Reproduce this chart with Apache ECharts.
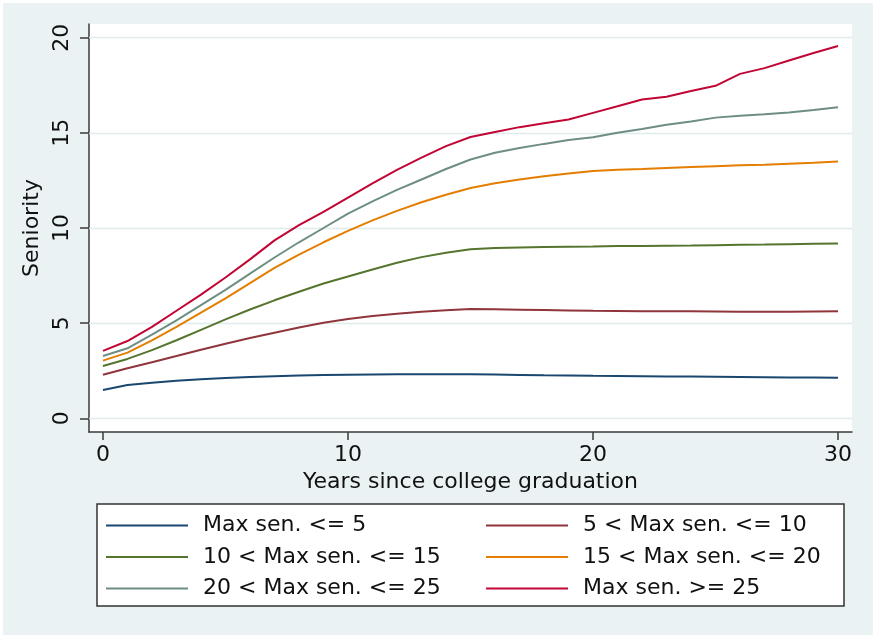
<!DOCTYPE html>
<html>
<head>
<meta charset="utf-8">
<script src="https://cdn.jsdelivr.net/npm/echarts@6/dist/echarts.min.js"></script>
<style>
  html, body { margin: 0; padding: 0; background: #ffffff; }
  #chart { width: 873px; height: 635px; }
</style>
</head>
<body>
<div id="chart"></div>
<script>
// Years since college graduation (x values)
const years = [0, 1, 2, 3, 4, 5, 6, 7, 8, 9, 10, 11, 12, 13, 14, 15, 16, 17, 18, 19, 20,
               21, 22, 23, 24, 25, 26, 27, 28, 29, 30];

// Mean seniority by maximum-seniority group
const senLe5 = [1.49, 1.75, 1.87, 1.97, 2.05, 2.12, 2.17, 2.21, 2.25, 2.27, 2.29, 2.30, 2.31, 2.32, 2.32, 2.32,
                2.30, 2.28, 2.26, 2.25, 2.23, 2.22, 2.21, 2.20, 2.19, 2.18, 2.17, 2.16, 2.15, 2.14, 2.13];
const sen5to10 = [2.29, 2.63, 2.95, 3.27, 3.60, 3.92, 4.22, 4.50, 4.77, 5.02, 5.22, 5.38, 5.50, 5.60, 5.68, 5.74,
                  5.73, 5.71, 5.69, 5.67, 5.65, 5.64, 5.63, 5.62, 5.62, 5.61, 5.60, 5.60, 5.60, 5.61, 5.62];
const sen10to15 = [2.75, 3.12, 3.58, 4.10, 4.65, 5.20, 5.72, 6.20, 6.65, 7.08, 7.45, 7.82, 8.17, 8.47, 8.70, 8.88,
                   8.95, 8.98, 9.00, 9.02, 9.03, 9.05, 9.06, 9.07, 9.08, 9.10, 9.12, 9.13, 9.15, 9.17, 9.18];
const sen15to20 = [3.03, 3.45, 4.10, 4.80, 5.55, 6.30, 7.10, 7.90, 8.60, 9.25, 9.85, 10.40, 10.90, 11.35, 11.75, 12.10,
                   12.35, 12.55, 12.72, 12.87, 13.00, 13.06, 13.10, 13.15, 13.20, 13.25, 13.30, 13.33, 13.38, 13.43, 13.49];
const sen20to25 = [3.27, 3.68, 4.40, 5.15, 5.95, 6.75, 7.60, 8.45, 9.25, 10.00, 10.75, 11.40, 12.00, 12.55, 13.10, 13.60,
                   13.95, 14.20, 14.42, 14.62, 14.77, 15.00, 15.20, 15.42, 15.60, 15.80, 15.90, 15.98, 16.07, 16.20, 16.34];
const senGe25 = [3.54, 4.06, 4.80, 5.65, 6.50, 7.40, 8.35, 9.35, 10.15, 10.85, 11.60, 12.35, 13.05, 13.70, 14.30, 14.78,
                 15.05, 15.30, 15.50, 15.70, 16.05, 16.40, 16.75, 16.90, 17.20, 17.47, 18.10, 18.40, 18.80, 19.20, 19.56];

const seriesNames = ['Max sen. <= 5', '5 < Max sen. <= 10', '10 < Max sen. <= 15',
                     '15 < Max sen. <= 20', '20 < Max sen. <= 25', 'Max sen. >= 25'];
const seriesValues = [senLe5, sen5to10, sen10to15, sen15to20, sen20to25, senGe25];
const seriesColors = ['#1a476f', '#90353b', '#55752f', '#e37e00', '#6e8e84', '#c10534'];

const xTicks = [0, 10, 20, 30];
const yTicks = [0, 5, 10, 15, 20];

const FONT = 'DejaVu Sans';
const AXIS_COLOR = '#3a3a3a';

const chart = echarts.init(document.getElementById('chart'), null, { renderer: 'canvas' });

const series = seriesNames.map((name, i) => ({
  name: name,
  type: 'line',
  data: years.map((x, j) => [x, seriesValues[i][j]]),
  symbol: 'none',
  showSymbol: false,
  smooth: false,
  z: 3,
  color: seriesColors[i],
  lineStyle: { color: seriesColors[i], width: 2 },
  emphasis: { disabled: true },
  silent: true
}));

// horizontal grid lines at the y tick values, spanning the whole plot region
series[0].markLine = {
  silent: true,
  symbol: 'none',
  z: 1,
  label: { show: false },
  lineStyle: { color: '#e0ebec', width: 1.3, type: 'solid' },
  emphasis: { disabled: true },
  data: yTicks.map(v => ({ yAxis: v }))
};

const legendCommon = {
  orient: 'vertical',
  top: 514,
  icon: 'rect',
  itemWidth: 82,
  itemHeight: 2,
  itemGap: 8.5,
  padding: 0,
  selectedMode: false,
  textStyle: { fontFamily: FONT, fontSize: 22, lineHeight: 23, color: '#111', padding: [0, 0, 0, 10] }
};

chart.setOption({
  animation: false,
  backgroundColor: '#ffffff',
  textStyle: { fontFamily: FONT },
  graphic: [
    {
      type: 'rect', z: -10, silent: true,
      shape: { x: 3, y: 3, width: 870, height: 632 },
      style: { fill: '#eaf2f3' }
    },
    {
      type: 'rect', z: -5, silent: true,
      shape: { x: 97, y: 504, width: 747, height: 102 },
      style: { fill: '#ffffff', stroke: '#333333', lineWidth: 1.5 }
    }
  ],
  grid: {
    left: 89, right: 21, top: 24, bottom: 203,
    show: true, backgroundColor: '#ffffff', borderWidth: 0
  },
  legend: [
    Object.assign({}, legendCommon, { left: 106, data: [seriesNames[0], seriesNames[2], seriesNames[4]] }),
    Object.assign({}, legendCommon, { left: 486, data: [seriesNames[1], seriesNames[3], seriesNames[5]] })
  ],
  xAxis: {
    type: 'value',
    min: -0.57, max: 30.57,
    name: 'Years since college graduation',
    nameLocation: 'middle',
    nameGap: 36,
    nameTextStyle: { fontFamily: FONT, fontSize: 22, color: '#111' },
    axisLine: { show: true, onZero: false, lineStyle: { color: AXIS_COLOR, width: 1.5 } },
    axisTick: { show: true, length: 8, customValues: xTicks, lineStyle: { color: AXIS_COLOR, width: 1.5 } },
    axisLabel: { customValues: xTicks, margin: 12, fontFamily: FONT, fontSize: 22, color: '#111' },
    splitLine: { show: false }
  },
  yAxis: {
    type: 'value',
    min: -0.72, max: 20.72,
    name: 'Seniority',
    nameLocation: 'middle',
    nameGap: 37,
    nameTextStyle: { fontFamily: FONT, fontSize: 22, color: '#111' },
    axisLine: { show: true, onZero: false, lineStyle: { color: AXIS_COLOR, width: 1.5 } },
    axisTick: { show: true, length: 9, customValues: yTicks, lineStyle: { color: AXIS_COLOR, width: 1.5 } },
    axisLabel: { customValues: yTicks, rotate: 90, margin: 16, fontFamily: FONT, fontSize: 22, color: '#111' },
    splitLine: { show: false }
  },
  series: series
});
</script>
</body>
</html>
